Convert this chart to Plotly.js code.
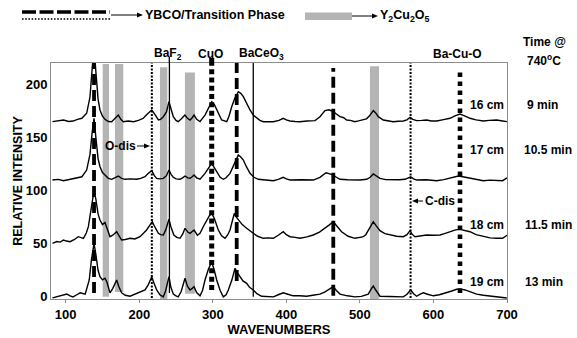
<!DOCTYPE html>
<html>
<head>
<meta charset="utf-8">
<script src="https://cdn.plot.ly/plotly-3.0.1.min.js"></script>
<style>html,body{margin:0;padding:0;background:#fff;}#chart{width:577px;height:338px;}</style>
</head>
<body>
<div id="chart"></div>
<script>
// ---- spectra (wavenumber, relative intensity, stacked as in the figure) ----
const x16 = [82,90,97,104,110,116,122,128.5,133,136,138.5,141,144,146.6,150,153.4,158,162.5,167,171.5,175,178.3,185,192,199,205.5,211,217,221,226,229,232.7,237,240.4,243.5,246.3,250,253,258,262,265.5,269,272,274.5,278,282.6,289.4,294,298.5,302,305.3,309,312,319,322,325.7,330,334.7,338,341.5,346,350.6,355,359.7,364,368.7,375,382.3,390,395.8,400,405,412,418.5,428,439,445.7,452.5,458,463.8,468,473,478,482,487,493.3,498,504.6,509,512.8,518.2,521.5,525,531.8,538,545.4,552,559,564,568.1,572,577.2,584,590.8,597,604.4,612,622.5,630,636.1,643,649.7,658,667.8,676,686,694,700];
const y16 = [164.8,165.5,166.4,165,165.4,167,168,172.7,188,215,235,212,186,175.8,170,167,165,164.8,168,171,167,164.8,165.5,164.8,166,168,172,175.8,172,166.4,167,169.5,174,183.6,176,169.5,166,164.8,168,171,168,166.4,168.5,171,167,165,171,178,183.6,181,175.8,170,166.4,164.8,170,178.9,187,193,191.5,188.3,182,175.8,171,168,166,164.8,165,164.8,166,168,166.5,165.4,165,164.8,165.5,165.8,169.5,175.2,176,174.2,172,169.5,168.5,166.4,166,164.8,165.5,166.4,167.5,170.1,175.2,173,169.5,166.4,165.5,164.8,165.2,165.4,166.5,168.9,167,165.8,166,166.4,165.5,165.4,166.5,168,170.5,172,170,168,166.5,165.4,166,166.4,165.5,164.8];

const x17 = [82,90,97,104,110,116,122,128.5,133,136,138.5,141,144,146.6,150,153.4,158,162.5,167,171.5,176,180.6,188,196.5,202,207.8,212,217,220.5,223.7,228,232.7,237,240.4,243.5,246.3,250,255.4,259,262.2,266,269,272,274.5,278,282.6,289.4,294,298.5,302,305.3,310,314.3,318,323.4,329,334.7,338,341.5,346,350.6,356,361.9,372,382.3,389,395.8,400,405,420,436.6,445.7,450,453.9,458,463.8,468,473,483,493.3,500,509.2,514,518.2,522,527.3,535,545.4,553,561.5,565,569,573,577.2,590,604.4,614,622.5,628,633.8,640,649.7,658,667.8,677,686,694,700];
const y17 = [109.9,110.5,109.3,110.5,111.5,112,113,119.3,134,155,168,150,130,122.4,117,114.6,111.5,110.6,112,113.7,111.5,110.6,111,110.6,111.5,113,116,118.7,114,111.5,111,111.5,114,119.3,115,112.5,111,110.6,112,113.7,112,111.5,113,114.6,112,110.8,116.2,121,125.6,121.5,117.7,112.5,110.6,112,116.2,125,133.5,131.5,128.7,122,116.2,112.5,110.6,110,109.3,110.5,112.5,111,109.9,110.2,109.9,112.5,114.5,116.8,116,114.6,112.5,110.6,110.2,109.9,110,110.6,112.5,115.6,114,111.5,110.3,109.9,110.2,110.6,111.5,113,111,109.9,110.2,109.3,110.3,111.5,112.8,113.7,113,111.5,110.3,109.3,109.8,109.9,109.3,112];

const x18 = [82,88,92.5,97,101,106,112,117,124.1,128,130.8,134,136.7,138.5,141,142,144,146.6,150,153.4,157,160.2,164,169.3,172,176,181,187.5,194,201,206,210,214,217.7,221,226,229,232.7,236,240.4,243,247,251,255.4,259,262.2,266,269,272,274.5,279,282.6,287,291.7,295,298.5,302,307.5,312,316.6,320,323.4,326,329.2,332,334.7,340,346,350,355,361,368.7,375,382.3,389,395.8,400,405,412,418.5,428,436.6,445,452.5,458,463.8,468,475.1,484,493.3,500,504.6,508,511.4,515,518.2,522,527.3,534,541,550,559,564,568.1,571,574.9,582,590.8,600,608.9,615,622.5,630,636.1,643,649.7,658,667.8,677,686,694,700];
const y18 = [50.4,52,51.5,53.5,52.5,51.9,54,56.6,55.1,60,66,82,95,100,92,88,78,72.3,68,70,62,56.6,58,61.3,58,53.5,54,55.1,54.5,56.6,60,62.9,67,70.7,66,59.8,58.5,58.2,63,73,66,58.2,56,55.1,59,64.5,61,59.8,61.5,62.9,58,59.8,66,72.3,76,78.6,74,62.9,57.5,55.1,58,62.9,70,78.6,75,72.3,68,64.5,62,59.8,57,55.1,55.5,55.1,58,61.3,58.5,56.6,56,55.1,56.5,58.2,61,64.5,67.5,70.7,67,61.3,57,55.1,56,56.6,58.5,62.9,67.5,70.7,67,62.3,59.5,58.2,57,56.6,58.5,62.3,59,56.6,57.5,58.2,58,58.2,59.5,61.3,63,63.5,62.5,61.3,58.5,56.6,55.5,55.1,55.1,58];

const x19 = [82,87,92.5,97,101.6,106,110,115,119.7,126.5,132,135,138.5,141,142,144,146.6,150,153.4,156,160.2,164,169.3,172,176,181,187.5,193,198.8,203,207.8,212,217,220.5,223.7,228,232.7,236,240.4,243,246.3,250,253,257,262.2,265.5,269,272,274.5,278,282.6,286,289.4,294,298.5,302,305.3,310,314.3,318,321.1,326,330.2,334,337,341,346,350,355,360,366.4,374,382.3,389,395.8,402,409.4,418,427.5,436,445.7,452,457,463.8,468,473,483,493.3,502,507,511.4,515,518.2,522,527.3,540,552,559,564,569,573,577.2,582,586.3,592,599.9,608,618,625,631.6,636,643,650,658.7,668,677,690,699.7];
const y19 = [-1,0,0.6,1.5,2.6,1,0,2,3.8,2.6,15.9,35,50,40,34.7,25,19,16,17.5,14,3.8,8,15.9,10,3.8,1.5,0.6,2,3.8,5,6.5,11,19,12,6.5,2,0,6,19,9,2.6,1,0,5,17.5,10,6.5,8,9.6,4,1,6,15.9,26,33.1,25,15.9,6,0,2,6.5,16,26.9,22,19,15,12.7,9,6.5,3,0.6,0.5,0,2,3.8,2.5,1,1,0.6,1.5,2.6,4.5,6.5,9.6,6,2.6,1,0,0.5,1.5,2.6,7,10.2,6,0.6,0.3,0.5,0,2.5,6.5,3,0.6,2.5,3.8,2.5,1,2,3.8,5.5,7.2,7.5,6.5,4.5,2.6,1.5,0.6,0,-1];

const sampleLabels = ['16 cm', '17 cm', '18 cm', '19 cm'];
const timeLabels = ['9 min', '10.5 min', '11.5 min', '13 min'];

// ---- phase marker positions (wavenumbers) ----
const ybcoDashed = [138.5, 332.5, 463.8];
const ybcoDotted = [217.1, 568.9];
const cuoPeak = [298.5];
const bacuoPeak = [636.1];
const baf2BaceoLines = [241, 355];
const y2cu2o5Bands = [[150.3, 158.9], [167, 178.3], [228.2, 238.2], [262.1, 275.7], [513.7, 526]];

const xTicks = [100, 200, 300, 400, 500, 600, 700];
const yTicks = [0, 50, 100, 150, 200];

// ---- layout helpers ----
const W = 577, H = 338, ML = 51, MR = 70, MT = 63, MB = 39;
const PW = W - ML - MR, PH = H - MT - MB;
const P = px => (px - ML) / PW;
const Q = py => (H - MB - py) / PH;
const FONT = "'Liberation Sans', Arial, sans-serif";
const bold = (size) => ({family: FONT, size: size, color: '#000', weight: 'bold'});

const traces = [[x16, y16], [x17, y17], [x18, y18], [x19, y19]].map(([xs, ys], i) => ({
  x: xs, y: ys, type: 'scatter', mode: 'lines', name: sampleLabels[i],
  line: {color: '#000', width: 1.4}, hoverinfo: 'skip', showlegend: false
}));

const shapes = [];
// grey Y2Cu2O5 bands
const bandY = [[0, 219], [4.7, 219], [-2, 216], [3, 211], [-2, 217]];
y2cu2o5Bands.forEach((b, i) => shapes.push({type: 'rect', xref: 'x', yref: 'y', x0: b[0], x1: b[1],
  y0: bandY[i][0], y1: bandY[i][1], fillcolor: '#b4b4b4', line: {width: 0}, layer: 'below'}));
// vertical markers
function vline(x, y0, y1, width, dash) {
  shapes.push({type: 'line', xref: 'x', yref: 'y', x0: x, x1: x, y0: y0, y1: y1,
    line: {color: '#000', width: width, dash: dash}});
}
const dashExt = [[3.6, 221], [15, 221], [1, 215.3]];
ybcoDashed.forEach((x, i) => vline(x, dashExt[i][0], dashExt[i][1], 3.8, '11px,5px'));
ybcoDotted.forEach(x => vline(x, -1, 221, 2, '2px,1.5px'));
cuoPeak.forEach(x => vline(x, 6.5, 221, 5, '5px,3.3px'));
bacuoPeak.forEach(x => vline(x, 3.6, 213.4, 4.6, '4.6px,4.4px'));
const thinExt = [[3.6, 221], [0, 221]];
baf2BaceoLines.forEach((x, i) => vline(x, thinExt[i][0], thinExt[i][1], 1.3, 'solid'));
// short extensions above the frame towards the labels
shapes.push({type: 'line', xref: 'paper', yref: 'paper', x0: P(169.3), x1: P(169.3), y0: Q(63), y1: Q(57), line: {color: '#000', width: 1.3}});
shapes.push({type: 'line', xref: 'paper', yref: 'paper', x0: P(211.7), x1: P(211.7), y0: Q(63), y1: Q(58), line: {color: '#000', width: 5, dash: '5px,3.3px'}});

// legend samples (paper coords)
shapes.push({type: 'line', xref: 'paper', yref: 'paper', x0: P(22), x1: P(110), y0: Q(12), y1: Q(12), line: {color: '#000', width: 3.4, dash: '14px,3.5px'}});
shapes.push({type: 'line', xref: 'paper', yref: 'paper', x0: P(22), x1: P(110), y0: Q(19), y1: Q(19), line: {color: '#000', width: 1.6, dash: '1.6px,1.6px'}});
shapes.push({type: 'rect', xref: 'paper', yref: 'paper', x0: P(305), x1: P(352), y0: Q(20), y1: Q(12.5), fillcolor: '#b4b4b4', line: {width: 0}});

// horizontal arrows drawn as shapes (line + filled head)
function arrow(x0, x1, y) {
  const dir = Math.sign(x1 - x0), hl = 6, hw = 2.6;
  shapes.push({type: 'line', xref: 'paper', yref: 'paper', x0: P(x0), x1: P(x1 - dir * hl), y0: Q(y), y1: Q(y),
    line: {color: '#000', width: 1}});
  shapes.push({type: 'path', xref: 'paper', yref: 'paper',
    path: `M ${P(x1)} ${Q(y)} L ${P(x1 - dir * hl)} ${Q(y - hw)} L ${P(x1 - dir * hl)} ${Q(y + hw)} Z`,
    fillcolor: '#000', line: {width: 0}});
}
arrow(111, 143, 15);
arrow(352, 378, 16);
arrow(137, 150, 146);
arrow(423, 412, 201);

function label(text, px, py, size, anchor) {
  return {xref: 'paper', yref: 'paper', x: P(px), y: Q(py), text: text, showarrow: false,
    xanchor: anchor || 'center', yanchor: 'middle', font: bold(size || 12)};
}

const rowY = [105, 150, 225, 282];
const timeX = [542, 548, 548, 544];
const annotations = [
  label('YBCO/Transition Phase', 143, 15, 12.5, 'left'),
  label('Y<sub>2</sub>Cu<sub>2</sub>O<sub>5</sub>', 378, 16, 12.5, 'left'),
  label('BaF<sub>2</sub>', 168, 54, 12),
  label('CuO', 210, 54, 12),
  label('BaCeO<sub>3</sub>', 261, 54, 12),
  label('Ba-Cu-O', 457, 54, 12),
  label('Time @', 544, 42, 12),
  label('740<sup>o</sup>C', 544, 60, 12),
  label('O-dis', 120, 146, 12),
  label('C-dis', 440, 201, 12)
];
sampleLabels.forEach((t, i) => annotations.push(label(t, 487, rowY[i], 12)));
timeLabels.forEach((t, i) => annotations.push(label(t, timeX[i], rowY[i], 12)));

const axisCommon = {
  showline: true, linecolor: '#8c8c8c', linewidth: 1, mirror: true,
  showgrid: false, zeroline: false, tickfont: bold(13), fixedrange: true
};

const layout = {
  width: W, height: H,
  margin: {l: ML, r: MR, t: MT, b: MB, pad: 0},
  paper_bgcolor: '#fff', plot_bgcolor: '#fff',
  font: {family: FONT, color: '#000'},
  showlegend: false,
  xaxis: Object.assign({}, axisCommon, {
    range: [80, 700], tickmode: 'array', tickvals: xTicks,
    ticks: 'outside', ticklen: 3, tickcolor: '#8c8c8c',
    title: {text: 'WAVENUMBERS', font: bold(13), standoff: 0}
  }),
  yaxis: Object.assign({}, axisCommon, {
    range: [-2, 220], tickmode: 'array', tickvals: yTicks, ticks: '',
    title: {text: 'RELATIVE INTENSITY', font: bold(12.5), standoff: 0}
  }),
  shapes: shapes,
  annotations: annotations
};

Plotly.newPlot('chart', traces, layout, {staticPlot: true, displayModeBar: false});
</script>
</body>
</html>
